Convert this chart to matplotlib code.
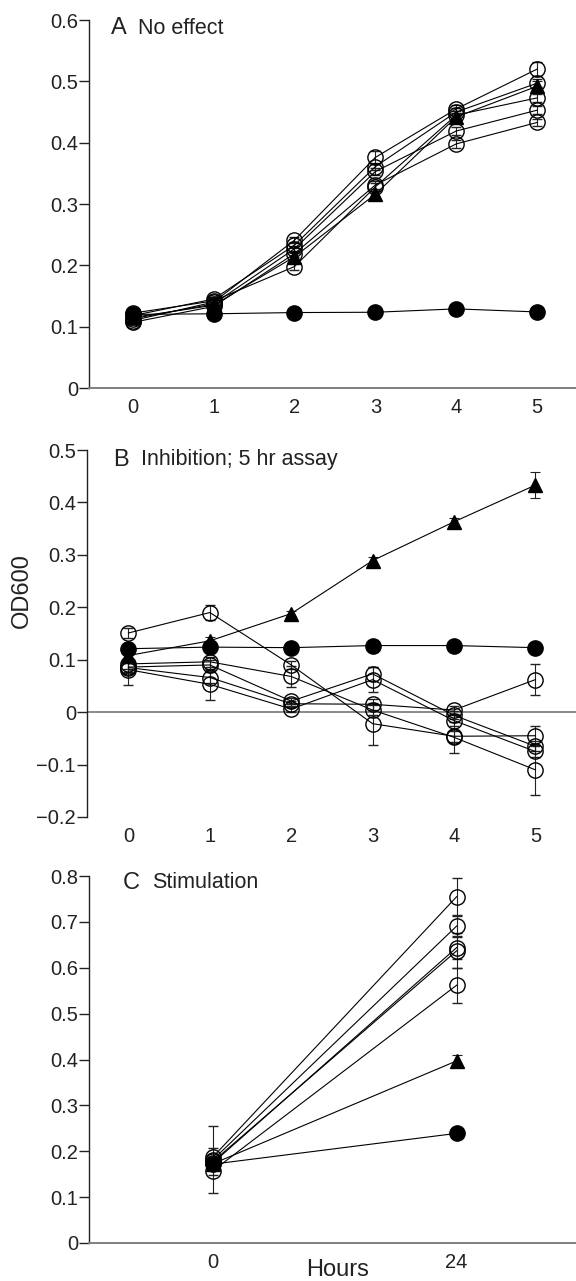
import matplotlib

matplotlib.use("Agg")
from matplotlib import pyplot as plt

plt.rcParams["font.family"] = ["Liberation Sans", "DejaVu Sans"]
plt.rcParams["axes.unicode_minus"] = True

# ---- panel A: no effect (hours 0-5) ----
hours_a = [0, 1, 2, 3, 4, 5]
a_ctrl = [0.120, 0.121, 0.123, 0.1235, 0.129, 0.124]
a_ctrl_err = [0.004, 0.003, 0.003, 0.003, 0.004, 0.003]
a_tri = [0.115, 0.135, 0.214, 0.316, 0.442, 0.492]
a_tri_err = [0.004, 0.004, 0.006, 0.006, 0.006, 0.008]
a_open = [
    [0.110, 0.140, 0.241, 0.376, 0.455, 0.520],
    [0.118, 0.145, 0.233, 0.361, 0.450, 0.497],
    [0.113, 0.137, 0.227, 0.353, 0.419, 0.453],
    [0.107, 0.133, 0.219, 0.331, 0.398, 0.433],
    [0.122, 0.142, 0.198, 0.328, 0.445, 0.473],
]
a_open_err = [
    [0.004, 0.004, 0.005, 0.010, 0.006, 0.012],
    [0.004, 0.004, 0.005, 0.006, 0.006, 0.006],
    [0.004, 0.004, 0.005, 0.006, 0.006, 0.006],
    [0.004, 0.004, 0.005, 0.006, 0.006, 0.006],
    [0.004, 0.004, 0.005, 0.006, 0.006, 0.006],
]

# ---- panel B: inhibition, 5 hr assay ----
hours_b = [0, 1, 2, 3, 4, 5]
b_ctrl = [0.121, 0.124, 0.123, 0.127, 0.127, 0.123]
b_ctrl_err = [0.004, 0.004, 0.003, 0.003, 0.003, 0.003]
b_tri = [0.108, 0.136, 0.188, 0.289, 0.363, 0.433]
b_tri_err = [0.006, 0.008, 0.005, 0.006, 0.007, 0.025]
b_open = [
    [0.151, 0.190, 0.090, -0.022, -0.046, -0.045],
    [0.092, 0.096, 0.068, 0.004, -0.048, -0.110],
    [0.086, 0.090, 0.021, 0.073, -0.006, -0.065],
    [0.081, 0.053, 0.006, 0.062, -0.016, -0.075],
    [0.085, 0.066, 0.016, 0.015, 0.004, 0.062],
]
b_open_err = [
    [0.009, 0.014, 0.008, 0.040, 0.010, 0.018],
    [0.010, 0.010, 0.020, 0.010, 0.030, 0.048],
    [0.010, 0.010, 0.006, 0.014, 0.008, 0.010],
    [0.030, 0.030, 0.006, 0.024, 0.010, 0.010],
    [0.010, 0.010, 0.006, 0.010, 0.008, 0.030],
]

# ---- panel C: stimulation (0 and 24 hours) ----
hours_c = ["0", "24"]
c_ctrl = [0.172, 0.239]
c_ctrl_err = [0.004, 0.004]
c_tri = [0.173, 0.397]
c_tri_err = [0.005, 0.012]
c_open = [
    [0.188, 0.755],
    [0.182, 0.691],
    [0.175, 0.644],
    [0.178, 0.637],
    [0.158, 0.562],
]
c_open_err = [
    [0.018, 0.040],
    [0.072, 0.022],
    [0.010, 0.024],
    [0.010, 0.038],
    [0.010, 0.038],
]

W, H = 576, 1281
TICK_FS = 14.5
LINE_KW = dict(color="black", lw=0.8, elinewidth=0.8, capsize=3.5, capthick=0.8,
               ecolor="#222222")


def draw_series(ax, x, ctrl, ctrl_err, tri, tri_err, opens, opens_err):
    for ys, es in zip(opens, opens_err):
        ax.errorbar(x, ys, yerr=es, marker="o", ms=11, mfc="none", mec="black",
                    mew=1.0, **LINE_KW)
    ax.errorbar(x, tri, yerr=tri_err, marker="^", ms=10, mfc="black", mec="black",
                **LINE_KW)
    ax.errorbar(x, ctrl, yerr=ctrl_err, marker="o", ms=11, mfc="black", mec="black",
                **LINE_KW)


def style_axes(ax, yticks, ylabels, bottom_spine=True):
    ax.spines["top"].set_visible(False)
    ax.spines["right"].set_visible(False)
    ax.spines["left"].set_color("#222222")
    ax.spines["left"].set_linewidth(1.0)
    if bottom_spine:
        ax.spines["bottom"].set_color("#808080")
        ax.spines["bottom"].set_linewidth(1.4)
    else:
        ax.spines["bottom"].set_visible(False)
    ax.set_yticks(yticks)
    ax.set_yticklabels(ylabels)
    ax.tick_params(axis="y", direction="out", length=7, width=1.0, pad=1,
                   labelsize=TICK_FS, color="#222222", labelcolor="#222222")
    ax.tick_params(axis="x", length=0, pad=7, labelsize=TICK_FS,
                   labelcolor="#222222")


def panel_label(ax, letter, text, lx, tx, y):
    ax.text(lx, y, letter, transform=ax.transAxes, fontsize=17, va="center",
            ha="left", color="#222222")
    ax.text(tx, y, text, transform=ax.transAxes, fontsize=15.5, va="center",
            ha="left", color="#222222")


fig = plt.figure(figsize=(W / 100, H / 100), dpi=100)

# panel A
ax_a = fig.add_axes([89 / W, 1 - 388 / H, 1 - 89 / W, 368 / H])
draw_series(ax_a, hours_a, a_ctrl, a_ctrl_err, a_tri, a_tri_err, a_open, a_open_err)
ax_a.set_xlim(-0.54, 5.48)
ax_a.set_ylim(0, 0.6)
ax_a.set_xticks(hours_a)
style_axes(ax_a, [0, 0.1, 0.2, 0.3, 0.4, 0.5, 0.6],
           ["0", "0.1", "0.2", "0.3", "0.4", "0.5", "0.6"])
panel_label(ax_a, "A", "No effect", 0.045, 0.100, 0.978)

# panel B
ax_b = fig.add_axes([87 / W, 1 - 817 / H, 1 - 87 / W, 367 / H])
ax_b.axhline(0, color="#808080", lw=1.3, zorder=1)
draw_series(ax_b, hours_b, b_ctrl, b_ctrl_err, b_tri, b_tri_err, b_open, b_open_err)
ax_b.set_xlim(-0.51, 5.5)
ax_b.set_ylim(-0.2, 0.5)
ax_b.set_xticks(hours_b)
style_axes(ax_b, [-0.2, -0.1, 0, 0.1, 0.2, 0.3, 0.4, 0.5],
           ["\u22120.2", "\u22120.1", "0", "0.1", "0.2", "0.3", "0.4", "0.5"],
           bottom_spine=False)
panel_label(ax_b, "B", "Inhibition; 5 hr assay", 0.053, 0.111, 0.973)

# panel C
ax_c = fig.add_axes([89 / W, 1 - 1243 / H, 1 - 89 / W, 367 / H])
xc = range(len(hours_c))
draw_series(ax_c, xc, c_ctrl, c_ctrl_err, c_tri, c_tri_err, c_open, c_open_err)
ax_c.set_xlim(-0.51, 1.49)
ax_c.set_ylim(0, 0.8)
ax_c.set_xticks(list(xc))
ax_c.set_xticklabels(hours_c)
style_axes(ax_c, [0, 0.1, 0.2, 0.3, 0.4, 0.5, 0.6, 0.7, 0.8],
           ["0", "0.1", "0.2", "0.3", "0.4", "0.5", "0.6", "0.7", "0.8"])
panel_label(ax_c, "C", "Stimulation", 0.070, 0.129, 0.981)

fig.text(338 / W, 1 - 1270 / H, "Hours", fontsize=17, ha="center", va="center",
         color="#222222")
fig.text(22 / W, 1 - 591 / H, "OD600", fontsize=17, rotation=90, ha="center",
         va="center", color="#222222")

fig.savefig("out.png", dpi=100)
